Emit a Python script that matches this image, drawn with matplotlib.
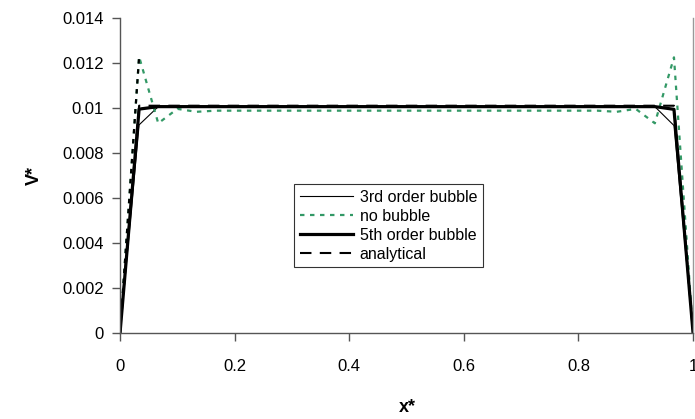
import matplotlib
matplotlib.use("Agg")
import matplotlib.pyplot as plt

plt.rcParams["font.family"] = ["Liberation Sans", "DejaVu Sans"]

# node positions x* (31 nodes across the channel)
x_nodes = [0.0, 0.0333, 0.0667, 0.1, 0.1333, 0.1667, 0.2, 0.2333, 0.2667, 0.3, 0.3333,
           0.3667, 0.4, 0.4333, 0.4667, 0.5, 0.5333, 0.5667, 0.6, 0.6333, 0.6667,
           0.7, 0.7333, 0.7667, 0.8, 0.8333, 0.8667, 0.9, 0.9333, 0.9667, 1.0]

# V*
v_3rd = [0.0, 0.00925, 0.01006, 0.01006, 0.01006, 0.01006, 0.01006, 0.01006, 0.01006, 0.01006, 0.01006,
         0.01006, 0.01006, 0.01006, 0.01006, 0.01006, 0.01006, 0.01006, 0.01006, 0.01006, 0.01006,
         0.01006, 0.01006, 0.01006, 0.01006, 0.01006, 0.01006, 0.01006, 0.01006, 0.00922, 0.0]
v_none = [0.0, 0.01228, 0.00932, 0.00996, 0.00983, 0.00988, 0.00988, 0.00988, 0.00988, 0.00988, 0.00988,
          0.00988, 0.00988, 0.00988, 0.00988, 0.00988, 0.00988, 0.00988, 0.00988, 0.00988, 0.00988,
          0.00988, 0.00988, 0.00988, 0.00988, 0.00988, 0.00983, 0.00996, 0.00932, 0.01225, 0.0]
v_5th = [0.0, 0.00995, 0.01006, 0.01006, 0.01006, 0.01006, 0.01006, 0.01006, 0.01006, 0.01006, 0.01006,
         0.01006, 0.01006, 0.01006, 0.01006, 0.01006, 0.01006, 0.01006, 0.01006, 0.01006, 0.01006,
         0.01006, 0.01006, 0.01006, 0.01006, 0.01006, 0.01006, 0.01006, 0.01006, 0.00994, 0.0]
v_analytic = [0.0, 0.0101, 0.0101, 0.0101, 0.0101, 0.0101, 0.0101, 0.0101, 0.0101, 0.0101, 0.0101,
              0.0101, 0.0101, 0.0101, 0.0101, 0.0101, 0.0101, 0.0101, 0.0101, 0.0101, 0.0101,
              0.0101, 0.0101, 0.0101, 0.0101, 0.0101, 0.0101, 0.0101, 0.0101, 0.0101, 0.0]

x_ticks = [0, 0.2, 0.4, 0.6, 0.8, 1.0]
x_tick_labels = ["0", "0.2", "0.4", "0.6", "0.8", "1"]
y_ticks = [0, 0.002, 0.004, 0.006, 0.008, 0.01, 0.012, 0.014]
y_tick_labels = ["0", "0.002", "0.004", "0.006", "0.008", "0.01", "0.012", "0.014"]

green = "#339966"
axis_grey = "#555555"

fig = plt.figure(figsize=(6.95, 4.19), dpi=100)
ax = fig.add_axes([0.1727, 0.2053, 0.8245, 0.7518])

ax.plot(x_nodes, v_3rd, color="black", linewidth=0.8, label="3rd order bubble")
ax.plot(x_nodes, v_none, color=green, linewidth=1.6, linestyle=(0, (2, 2.5)), label="no bubble")
# the first segment of the no-bubble curve shows up dark in the original
ax.plot(x_nodes[:2], v_none[:2], color="black", linewidth=1.6, linestyle=(0, (2, 2.5)))
ax.plot(x_nodes, v_5th, color="black", linewidth=2.3, label="5th order bubble")
ax.plot(x_nodes, v_analytic, color="black", linewidth=1.5, linestyle=(0, (5.5, 4)), label="analytical")

ax.set_xlim(0, 1)
ax.set_ylim(0, 0.014)
ax.set_xticks(x_ticks)
ax.set_xticklabels(x_tick_labels)
ax.set_yticks(y_ticks)
ax.set_yticklabels(y_tick_labels)
ax.tick_params(axis="both", direction="out", length=5.5, width=1, color=axis_grey, labelsize=12)
ax.tick_params(axis="x", pad=13)
ax.tick_params(axis="y", pad=6)

for side in ["left", "bottom", "right"]:
    ax.spines[side].set_color(axis_grey)
    ax.spines[side].set_linewidth(1)
ax.spines["right"].set_color("#999999")
ax.spines["top"].set_visible(False)

ax.set_xlabel("x*", fontsize=13, fontweight="bold")
ax.set_ylabel("V*", fontsize=13, fontweight="bold")
ax.xaxis.set_label_coords(0.502, -0.21)
ax.yaxis.set_label_coords(-0.135, 0.5)

leg = ax.legend(loc="upper left", bbox_to_anchor=(0.3037, 0.472), borderaxespad=0,
                fontsize=11.5, frameon=True, fancybox=False, shadow=False,
                handlelength=3.35, handletextpad=0.4, labelspacing=0.25, borderpad=0.35)
leg.get_frame().set_edgecolor("black")
leg.get_frame().set_linewidth(0.8)

plt.savefig("out.png", dpi=100)
